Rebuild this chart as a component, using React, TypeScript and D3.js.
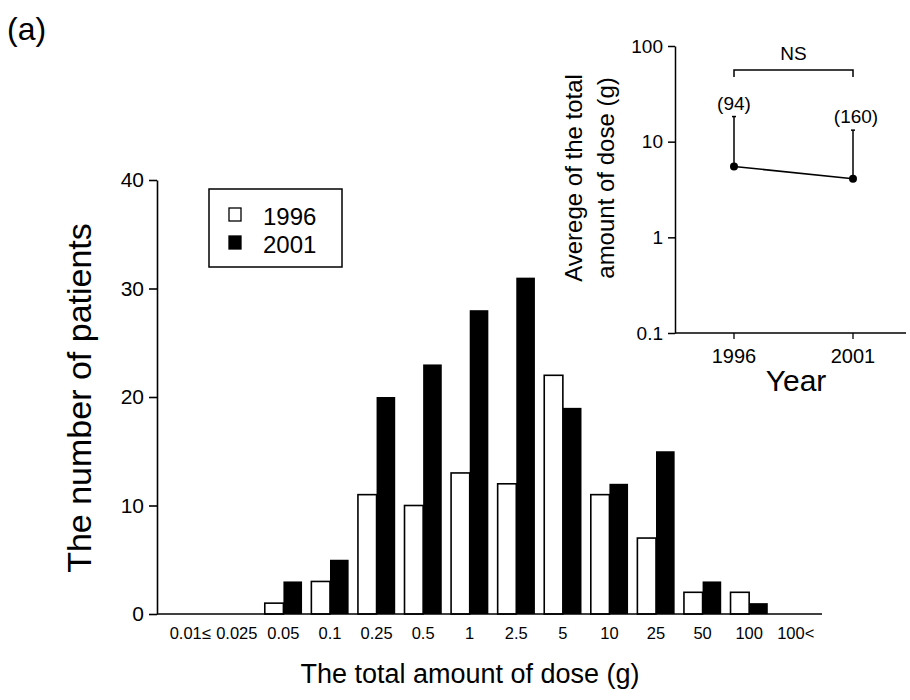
import React, { useEffect, useRef } from "react";
import * as d3 from "d3";

const categories = ["0.01≤", "0.025", "0.05", "0.1", "0.25", "0.5", "1", "2.5", "5", "10", "25", "50", "100", "100<"];
const counts1996 = [0, 0, 1, 3, 11, 10, 13, 12, 22, 11, 7, 2, 2, 0];
const counts2001 = [0, 0, 3, 5, 20, 23, 28, 31, 19, 12, 15, 3, 1, 0];
const seriesNames = ["1996", "2001"];
const mainTicks = [0, 10, 20, 30, 40];

const years = ["1996", "2001"];
const avgDose = [5.5, 4.1];
const avgDoseUpper = [18.3, 13.2];
const sampleSizes = ["(94)", "(160)"];
const insetTicks = [0.1, 1, 10, 100];

const FONT = "'Liberation Sans', Arial, Helvetica, sans-serif";

const App = () => {
  const svgRef = useRef<SVGSVGElement>(null);

  useEffect(() => {
    document.body.style.margin = "0";
    const svg = d3.select(svgRef.current).style("font-family", FONT);
    svg.selectAll("*").remove();

    // ---- main histogram ----
    const x = d3.scaleBand().domain(categories).range([160, 826]).paddingInner(0.2).paddingOuter(0.25);
    const y = d3.scaleLinear().domain([0, 40]).range([614, 180]);
    const half = x.bandwidth() / 2;

    const rows = categories.map((c, i) => ({ c, a: counts1996[i], b: counts2001[i] }));

    const g = svg.append("g");

    g.selectAll("rect.b96")
      .data(rows.filter((d) => d.a > 0))
      .join("rect")
      .attr("class", "b96")
      .attr("x", (d) => x(d.c)!)
      .attr("y", (d) => y(d.a))
      .attr("width", half)
      .attr("height", (d) => y(0) - y(d.a))
      .attr("fill", "#fff")
      .attr("stroke", "#000")
      .attr("stroke-width", 1.6);

    g.selectAll("rect.b01")
      .data(rows.filter((d) => d.b > 0))
      .join("rect")
      .attr("class", "b01")
      .attr("x", (d) => x(d.c)! + half)
      .attr("y", (d) => y(d.b))
      .attr("width", half)
      .attr("height", (d) => y(0) - y(d.b))
      .attr("fill", "#000");

    // axes
    const yAxis = g.append("g")
      .attr("transform", `translate(157,0)`)
      .call(d3.axisLeft(y).tickValues(mainTicks).tickSize(8).tickPadding(5).tickSizeOuter(0));
    yAxis.select(".domain").attr("stroke-width", 1.6);
    yAxis.selectAll("line").attr("stroke-width", 1.6);
    yAxis.selectAll("text").style("font-size", "21px").style("font-family", FONT);

    g.append("line")
      .attr("x1", 157).attr("x2", 822)
      .attr("y1", y(0)).attr("y2", y(0))
      .attr("stroke", "#000").attr("stroke-width", 1.6);

    g.selectAll("text.xlab")
      .data(categories)
      .join("text")
      .attr("class", "xlab")
      .attr("x", (d) => x(d)! + half)
      .attr("y", 639)
      .attr("text-anchor", "middle")
      .style("font-size", "16.5px")
      .text((d) => d);

    svg.append("text")
      .attr("x", 470).attr("y", 683)
      .attr("text-anchor", "middle")
      .style("font-size", "27px")
      .text("The total amount of dose (g)");

    svg.append("text")
      .attr("transform", `translate(91,398) rotate(-90)`)
      .attr("text-anchor", "middle")
      .style("font-size", "34px")
      .text("The number of patients");

    svg.append("text")
      .attr("x", 7).attr("y", 40)
      .style("font-size", "32px")
      .text("(a)");

    // legend
    const lg = svg.append("g");
    lg.append("rect")
      .attr("x", 209).attr("y", 189).attr("width", 133).attr("height", 78)
      .attr("fill", "#fff").attr("stroke", "#000").attr("stroke-width", 1.5);
    seriesNames.forEach((name, i) => {
      lg.append("rect")
        .attr("x", 229).attr("y", 208 + i * 28).attr("width", 12).attr("height", 13)
        .attr("fill", i === 0 ? "#fff" : "#000")
        .attr("stroke", "#000").attr("stroke-width", 1.3);
      lg.append("text")
        .attr("x", 263).attr("y", 225 + i * 28)
        .style("font-size", "24px")
        .text(name);
    });

    // ---- inset ----
    const ix = d3.scalePoint().domain(years).range([734, 853]);
    const iy = d3.scaleLog().domain([0.1, 100]).range([333, 46]);
    const ig = svg.append("g");

    const iyAxis = ig.append("g")
      .attr("transform", `translate(675,0)`)
      .call(d3.axisLeft(iy).tickValues(insetTicks).tickFormat((d) => String(d)).tickSize(7).tickPadding(5).tickSizeOuter(0));
    iyAxis.select(".domain").attr("stroke-width", 1.5);
    iyAxis.selectAll("line").attr("stroke-width", 1.5);
    iyAxis.selectAll("text").style("font-size", "19px").style("font-family", FONT);

    ig.append("line")
      .attr("x1", 675).attr("x2", 906)
      .attr("y1", iy(0.1)).attr("y2", iy(0.1))
      .attr("stroke", "#000").attr("stroke-width", 1.5);
    ig.selectAll("line.ixt")
      .data(years)
      .join("line")
      .attr("class", "ixt")
      .attr("x1", (d) => ix(d)!).attr("x2", (d) => ix(d)!)
      .attr("y1", iy(0.1)).attr("y2", iy(0.1) + 6)
      .attr("stroke", "#000").attr("stroke-width", 1.3);
    ig.selectAll("text.ixl")
      .data(years)
      .join("text")
      .attr("class", "ixl")
      .attr("x", (d) => ix(d)!)
      .attr("y", 363)
      .attr("text-anchor", "middle")
      .style("font-size", "20px")
      .text((d) => d);

    ig.append("text")
      .attr("x", 796).attr("y", 391)
      .attr("text-anchor", "middle")
      .style("font-size", "30px")
      .text("Year");

    const pts = years.map((yr, i) => ({ yr, v: avgDose[i], up: avgDoseUpper[i], n: sampleSizes[i] }));

    ig.selectAll("line.err")
      .data(pts)
      .join("line")
      .attr("class", "err")
      .attr("x1", (d) => ix(d.yr)!).attr("x2", (d) => ix(d.yr)!)
      .attr("y1", (d) => iy(d.v)).attr("y2", (d) => iy(d.up))
      .attr("stroke", "#000").attr("stroke-width", 1.5);
    ig.selectAll("line.cap")
      .data(pts)
      .join("line")
      .attr("class", "cap")
      .attr("x1", (d) => ix(d.yr)! - 2).attr("x2", (d) => ix(d.yr)! + 2)
      .attr("y1", (d) => iy(d.up)).attr("y2", (d) => iy(d.up))
      .attr("stroke", "#000").attr("stroke-width", 1.5);

    ig.append("path")
      .datum(pts)
      .attr("d", d3.line<any>().x((d) => ix(d.yr)!).y((d) => iy(d.v)))
      .attr("fill", "none").attr("stroke", "#000").attr("stroke-width", 1.5);

    ig.selectAll("circle")
      .data(pts)
      .join("circle")
      .attr("cx", (d) => ix(d.yr)!).attr("cy", (d) => iy(d.v))
      .attr("r", 4).attr("fill", "#000");

    ig.selectAll("text.n")
      .data(pts)
      .join("text")
      .attr("class", "n")
      .attr("x", (d) => ix(d.yr)! + (d.yr === "2001" ? 3 : 0))
      .attr("y", (d) => iy(d.up) - 7)
      .attr("text-anchor", "middle")
      .style("font-size", "19px")
      .text((d) => d.n);

    // NS bracket
    const by = 70;
    ig.append("path")
      .attr("d", `M${ix("1996")},${by + 7}V${by}H${ix("2001")}V${by + 7}`)
      .attr("fill", "none").attr("stroke", "#000").attr("stroke-width", 1.5);
    ig.append("text")
      .attr("x", (ix("1996")! + ix("2001")!) / 2).attr("y", 60)
      .attr("text-anchor", "middle")
      .style("font-size", "19px")
      .text("NS");

    ig.append("text")
      .attr("transform", `translate(582,178) rotate(-90)`)
      .attr("text-anchor", "middle")
      .style("font-size", "24px")
      .text("Averege of the total");
    ig.append("text")
      .attr("transform", `translate(614,178) rotate(-90)`)
      .attr("text-anchor", "middle")
      .style("font-size", "24px")
      .text("amount of dose (g)");
  }, []);

  return <svg ref={svgRef} width={910} height={700} style={{ display: "block", background: "#fff" }}></svg>;
};

export default App;
